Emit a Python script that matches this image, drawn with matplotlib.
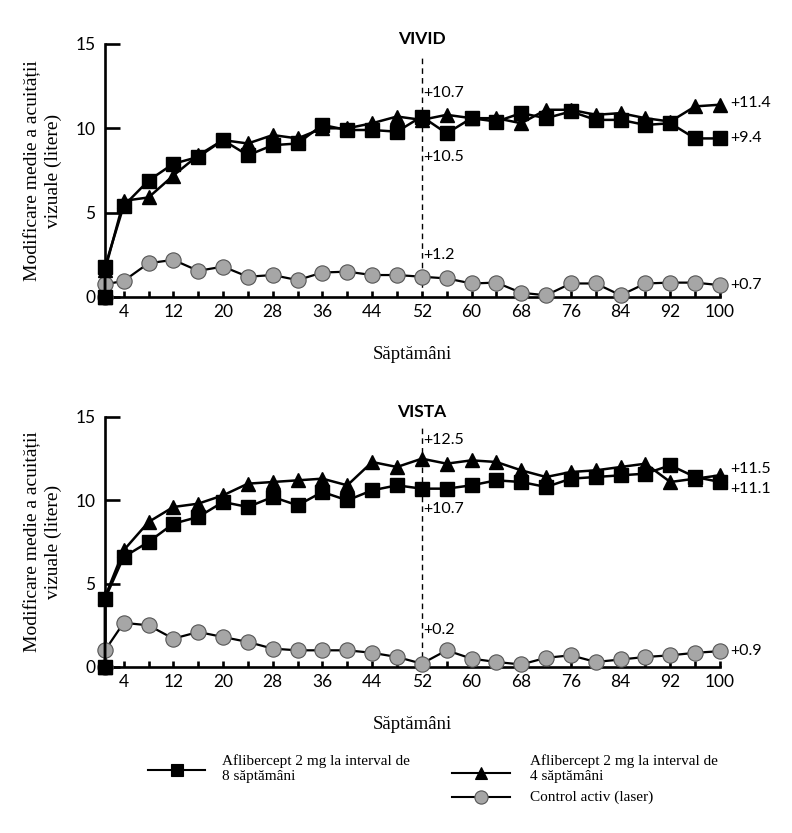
import numpy as np
import matplotlib
matplotlib.use("Agg")
import matplotlib.pyplot as plt
from matplotlib.lines import Line2D

# Weeks at which values were plotted (first point sits on the y axis)
weeks = [1] + list(range(4, 101, 4))
baseline = 0.0

# VIVID
vivid_q8 = [1.8, 5.4, 6.9, 7.9, 8.3, 9.3, 8.4, 9.0, 9.1, 10.2, 9.9, 9.9, 9.8, 10.7,
            9.7, 10.6, 10.4, 10.9, 10.6, 11.0, 10.5, 10.5, 10.2, 10.3, 9.4, 9.4]
vivid_q4 = [1.6, 5.7, 5.9, 7.2, 8.4, 9.3, 9.1, 9.6, 9.4, 10.0, 10.0, 10.3, 10.7, 10.5,
            10.8, 10.6, 10.6, 10.3, 11.1, 11.1, 10.8, 10.9, 10.6, 10.4, 11.3, 11.4]
vivid_laser = [0.75, 0.95, 2.0, 2.2, 1.55, 1.8, 1.2, 1.3, 1.0, 1.45, 1.5, 1.3, 1.3, 1.2,
               1.1, 0.8, 0.85, 0.25, 0.1, 0.8, 0.8, 0.1, 0.8, 0.85, 0.85, 0.7]

# VISTA
vista_q8 = [4.1, 6.6, 7.5, 8.6, 9.0, 9.9, 9.6, 10.2, 9.7, 10.5, 10.0, 10.6, 10.9, 10.7,
            10.7, 10.9, 11.2, 11.1, 10.8, 11.3, 11.4, 11.5, 11.6, 12.1, 11.4, 11.1]
vista_q4 = [4.2, 7.0, 8.7, 9.6, 9.8, 10.3, 11.0, 11.1, 11.2, 11.3, 10.9, 12.3, 12.0, 12.5,
            12.2, 12.4, 12.3, 11.8, 11.4, 11.7, 11.8, 12.0, 12.2, 11.1, 11.3, 11.5]
vista_laser = [1.0, 2.65, 2.5, 1.7, 2.1, 1.8, 1.5, 1.1, 1.0, 1.0, 1.0, 0.85, 0.6, 0.2,
               1.0, 0.5, 0.3, 0.15, 0.55, 0.7, 0.3, 0.45, 0.6, 0.7, 0.85, 0.95]

# annotation texts: (label, y position) at week 52 and at the end of the lines
vivid_wk52 = [("+10.7", 12.1), ("+10.5", 8.3), ("+1.2", 2.5)]
vivid_end = [("+11.4", 11.5), ("+9.4", 9.4), ("+0.7", 0.7)]
vista_wk52 = [("+12.5", 13.6), ("+10.7", 9.5), ("+0.2", 2.2)]
vista_end = [("+11.5", 11.9), ("+11.1", 10.7), ("+0.9", 0.95)]

xticks = list(range(4, 101, 4))
xticklabels = [str(w) if (w - 4) % 8 == 0 else "" for w in xticks]

SANS = ["Lato", "DejaVu Sans"]
SERIF = ["Liberation Serif", "DejaVu Serif"]
GREY = "#a6a6a6"


def draw_panel(ax, title, q8, q4, laser, wk52_labels, end_labels):
    x = [weeks[0]] + weeks
    ax.plot(x, [baseline] + laser, color="black", lw=1.6, marker="o", ms=11,
            mfc=GREY, mec="#555555", mew=0.8, clip_on=False, zorder=3)
    ax.plot(x, [baseline] + q4, color="black", lw=1.8, marker="^", ms=10,
            mfc="black", mec="black", clip_on=False, zorder=4)
    ax.plot(x, [baseline] + q8, color="black", lw=1.8, marker="s", ms=10,
            mfc="black", mec="black", clip_on=False, zorder=5)

    ax.axvline(52, ymin=0, ymax=0.955, color="black", lw=1.0, ls=(0, (4, 3)), zorder=2)

    ax.set_xlim(1, 100)
    ax.set_ylim(0, 15)
    ax.set_yticks([0, 5, 10, 15])
    ax.set_xticks(xticks)
    ax.set_xticklabels(xticklabels)

    for side in ["top", "right"]:
        ax.spines[side].set_visible(False)
    for side in ["left", "bottom"]:
        ax.spines[side].set_linewidth(1.9)

    ax.tick_params(axis="y", direction="in", length=10.5, width=1.9, pad=7, labelsize=12.5)
    ax.tick_params(axis="x", direction="in", length=4, width=1.9, pad=5, labelsize=12.5)
    for lab in ax.get_xticklabels() + ax.get_yticklabels():
        lab.set_family(SANS)

    ax.set_ylabel("Modificare medie a acuității\nvizuale (litere)", fontsize=14,
                  family=SERIF, linespacing=1.25)
    ax.yaxis.set_label_coords(-0.07, 0.5)
    ax.set_xlabel("Săptămâni", fontsize=13.5, family=SERIF, labelpad=19)

    ax.text(52, 15.3, title, ha="center", va="center", fontsize=12.5,
            fontweight="bold", family=SANS, clip_on=False)
    for txt, y in wk52_labels:
        ax.text(52.3, y, txt, ha="left", va="center", fontsize=11.5, family=SANS)
    for txt, y in end_labels:
        ax.text(101.7, y, txt, ha="left", va="center", fontsize=11.5, family=SANS,
                clip_on=False)


fig = plt.figure(figsize=(7.92, 8.33), dpi=100)
ax_top = fig.add_axes([0.1326, 0.6435, 0.7765, 0.3037])
ax_bot = fig.add_axes([0.1326, 0.1993, 0.7765, 0.3001])

draw_panel(ax_top, "VIVID", vivid_q8, vivid_q4, vivid_laser, vivid_wk52, vivid_end)
draw_panel(ax_bot, "VISTA", vista_q8, vista_q4, vista_laser, vista_wk52, vista_end)

# legend drawn by hand to match the layout
legend_items = [
    ("s", "black", (0.187, 0.259, 0.0756), 8.5, "Aflibercept 2 mg la interval de\n8 săptămâni", (0.280, 0.0775)),
    ("^", "black", (0.571, 0.644, 0.0720), 8.5, "Aflibercept 2 mg la interval de\n4 săptămâni", (0.669, 0.0775)),
    ("o", GREY, (0.571, 0.644, 0.0432), 9.5, "Control activ (laser)", (0.669, 0.0432)),
]
for marker, fc, (x0, x1, y), ms, label, (tx, ty) in legend_items:
    fig.add_artist(Line2D([x0, x1], [y, y], color="black", lw=1.5,
                          transform=fig.transFigure))
    fig.add_artist(Line2D([(x0 + x1) / 2], [y], marker=marker, ms=ms, mfc=fc,
                          mec="black" if fc == "black" else "#555555", mew=0.8,
                          ls="none", transform=fig.transFigure))
    fig.text(tx, ty, label, ha="left", va="center", fontsize=11, family=SERIF,
             linespacing=1.2)

fig.savefig("out.png", dpi=100)
